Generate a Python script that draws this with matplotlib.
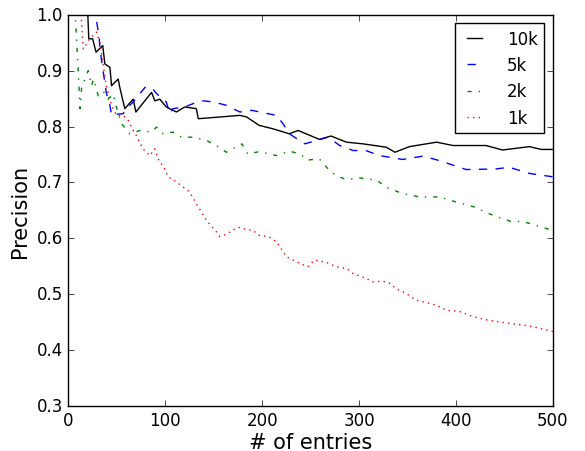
import matplotlib
matplotlib.use("Agg")
import matplotlib.pyplot as plt

# precision vs number of entries
x_10k = [1, 20, 21, 25, 28.5, 35.4, 37.6, 42.8, 44.5, 51.3, 53, 58.2, 66.8, 69.6, 85.8, 89.2,
         94.3, 101, 111.5, 120, 132, 134, 156, 177, 184, 197, 211, 228, 237, 259, 271, 287,
         304, 328, 337, 352, 380, 397, 431, 448, 476, 488, 500]
y_10k = [1.0, 1.0, 0.957, 0.957, 0.933, 0.945, 0.912, 0.906, 0.873, 0.885, 0.87, 0.832, 0.849,
         0.826, 0.861, 0.846, 0.849, 0.835, 0.826, 0.835, 0.832, 0.814, 0.817, 0.82, 0.817,
         0.802, 0.796, 0.787, 0.793, 0.777, 0.783, 0.772, 0.769, 0.763, 0.754, 0.764, 0.772,
         0.766, 0.766, 0.758, 0.764, 0.759, 0.759]

x_5k = [1, 28, 31.7, 32.5, 36, 39, 42.8, 44.5, 49.6, 56.5, 59.8, 66.8, 79, 85.8, 90.9, 101,
        104.6, 108, 120, 128.7, 139, 149.7, 163, 177, 189, 214.6, 221.5, 228, 244, 256, 268,
        280, 294, 307, 321, 345, 366, 383, 410.5, 441, 455, 476, 500]
y_5k = [1.0, 1.0, 0.96, 0.939, 0.897, 0.861, 0.838, 0.82, 0.822, 0.823, 0.832, 0.844, 0.87,
        0.87, 0.859, 0.844, 0.823, 0.832, 0.835, 0.841, 0.846, 0.844, 0.838, 0.826, 0.829,
        0.82, 0.805, 0.787, 0.769, 0.775, 0.781, 0.766, 0.757, 0.757, 0.748, 0.741, 0.747,
        0.739, 0.723, 0.724, 0.727, 0.716, 0.71]

x_2k = [1, 7, 10, 12, 13.6, 20.4, 23.8, 26, 30.7, 36, 41, 46, 51.3, 54.8, 63.4, 73.8, 85.8,
        90.9, 97.8, 108, 116.7, 128.7, 142.5, 152.8, 163, 179, 185, 197, 214.6, 228, 238.7,
        247, 259, 268, 276.5, 287, 300.5, 317.7, 331, 345, 362, 383, 400, 419, 431, 443, 457,
        469, 483, 496, 500]
y_2k = [1.0, 1.0, 0.903, 0.832, 0.87, 0.9, 0.873, 0.885, 0.855, 0.863, 0.849, 0.858, 0.823,
        0.805, 0.787, 0.793, 0.79, 0.799, 0.787, 0.79, 0.781, 0.781, 0.775, 0.766, 0.754,
        0.769, 0.751, 0.755, 0.748, 0.756, 0.751, 0.74, 0.742, 0.724, 0.712, 0.705, 0.708,
        0.704, 0.689, 0.68, 0.674, 0.674, 0.665, 0.656, 0.646, 0.638, 0.63, 0.63, 0.623,
        0.616, 0.614]

x_1k = [1, 13, 15.3, 22, 29, 32.5, 36, 39, 44.5, 49.7, 56.5, 61.7, 66.8, 70, 77, 84, 89, 94,
        97.8, 103, 111.5, 118, 125, 132, 142.5, 153, 156, 163, 175, 180, 190.5, 197, 206.5,
        214.6, 225, 238.7, 247, 254, 266, 276.5, 287, 293.6, 307.4, 314, 324.5, 331, 338,
        348.6, 359, 369, 379.6, 390, 403.6, 417, 431, 445, 462, 476, 486, 500]
y_1k = [1.0, 1.0, 0.939, 0.957, 0.969, 0.95, 0.909, 0.873, 0.838, 0.82, 0.82, 0.811, 0.793,
        0.784, 0.76, 0.748, 0.76, 0.736, 0.73, 0.71, 0.701, 0.692, 0.683, 0.662, 0.632, 0.611,
        0.603, 0.607, 0.62, 0.617, 0.614, 0.605, 0.603, 0.594, 0.567, 0.555, 0.549, 0.561,
        0.557, 0.549, 0.546, 0.537, 0.528, 0.522, 0.523, 0.52, 0.51, 0.501, 0.489, 0.485,
        0.48, 0.471, 0.469, 0.46, 0.454, 0.45, 0.446, 0.443, 0.439, 0.433]

plt.style.use("classic")
plt.rcParams["font.family"] = "DejaVu Sans"

fig = plt.figure(figsize=(5.85, 4.52), dpi=100, facecolor="white")
ax = fig.add_axes([0.117, 0.1, 0.828, 0.865])

ax.plot(x_10k, y_10k, "k-", lw=1.0, label="10k")
ax.plot(x_5k, y_5k, "b--", lw=1.0, label="5k")
ax.plot(x_2k, y_2k, "g-.", lw=1.0, label="2k")
ax.plot(x_1k, y_1k, "r:", lw=1.0, label="1k")

ax.set_xlim(0, 500)
ax.set_ylim(0.3, 1.0)
ax.set_xlabel("# of entries", fontsize=15, labelpad=2)
ax.set_ylabel("Precision", fontsize=15)
ax.tick_params(labelsize=12)
ax.legend(loc="upper right", fontsize=12, handlelength=1.5, handletextpad=1.2)

fig.savefig("out.png", dpi=100, facecolor="white")
